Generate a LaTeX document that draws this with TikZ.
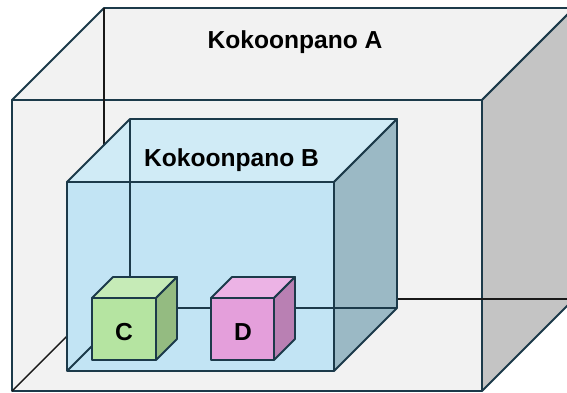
\documentclass[tikz,border=0pt]{standalone}
\usepackage{fontspec}
\setmainfont{Liberation Sans}
\usepackage{tikz}
\definecolor{reuna}{HTML}{1C3A4A}
\definecolor{agray1}{HTML}{F2F2F2}
\definecolor{agray2}{HTML}{C4C4C4}
\definecolor{bblue1}{HTML}{C2E4F4}
\definecolor{bblue2}{HTML}{D0EBF6}
\definecolor{bblue3}{HTML}{9BB9C5}
\definecolor{cgreen1}{HTML}{B5E4A1}
\definecolor{cgreen2}{HTML}{C6EBB7}
\definecolor{cgreen3}{HTML}{94BB81}
\definecolor{dpink1}{HTML}{E49FDB}
\definecolor{dpink2}{HTML}{ECB3E5}
\definecolor{dpink3}{HTML}{B980B3}

% x, y, leveys, korkeus, syvyys, etu, katto, sivu
\newcommand{\kuutio}[8]{%
	\filldraw[fill=#7] (#1,#2) -- ++(#5,-#5) -- ++(#3,0) -- ++(-#5,#5) -- cycle;
	\filldraw[fill=#8] (#1+#3,#2) -- ++(#5,-#5) -- ++(0,#4) -- ++(-#5,#5) -- cycle;
	\filldraw[fill=#6] (#1,#2) rectangle ++(#3,#4);
}
% takareunat: x, y, leveys, korkeus, syvyys
\newcommand{\takareunat}[5]{%
	\draw (#1+#5,#2-#5) -- ++(0,#4) -- ++(#3,0);
	\draw (#1,#2+#4) -- ++(#5,-#5);
}

\begin{document}
\begin{tikzpicture}[x=1pt,y=-1pt,line join=round,
		kansi/.style={font=\bfseries\fontsize{24.6}{28}\selectfont,anchor=base,inner sep=0pt}]
		\useasboundingbox (0,0) rectangle (567,392);
		\clip (0,0) rectangle (567,392);

		% kokoonpano A
		\begin{scope}[draw=reuna,line width=1.8pt]
			\kuutio{12}{100}{470}{291}{92}{agray1}{agray1}{agray2}
		\end{scope}
		\begin{scope}[draw=black!90,line width=1.4pt]
			\takareunat{12}{100}{470}{291}{92}
		\end{scope}

		% kokoonpano B
		\begin{scope}[draw=reuna,line width=1.8pt]
			\kuutio{67}{182}{267}{189}{63}{bblue1}{bblue2}{bblue3}
			\takareunat{67}{182}{267}{189}{63}
		\end{scope}

		% C ja D
		\begin{scope}[draw=reuna,line width=1.8pt]
			\kuutio{92}{298}{64}{62}{21}{cgreen1}{cgreen2}{cgreen3}
			\kuutio{211}{298}{63}{62}{21}{dpink1}{dpink2}{dpink3}
		\end{scope}

		\node[kansi] (nimiA) at (295,48.5) {Kokoonpano A};
		\node[kansi] (nimiB) at (231.5,166) {Kokoonpano B};
		\node[kansi] (nimiC) at (124,340) {C};
		\node[kansi] (nimiD) at (243,340) {D};

	\end{tikzpicture}
\end{document}
